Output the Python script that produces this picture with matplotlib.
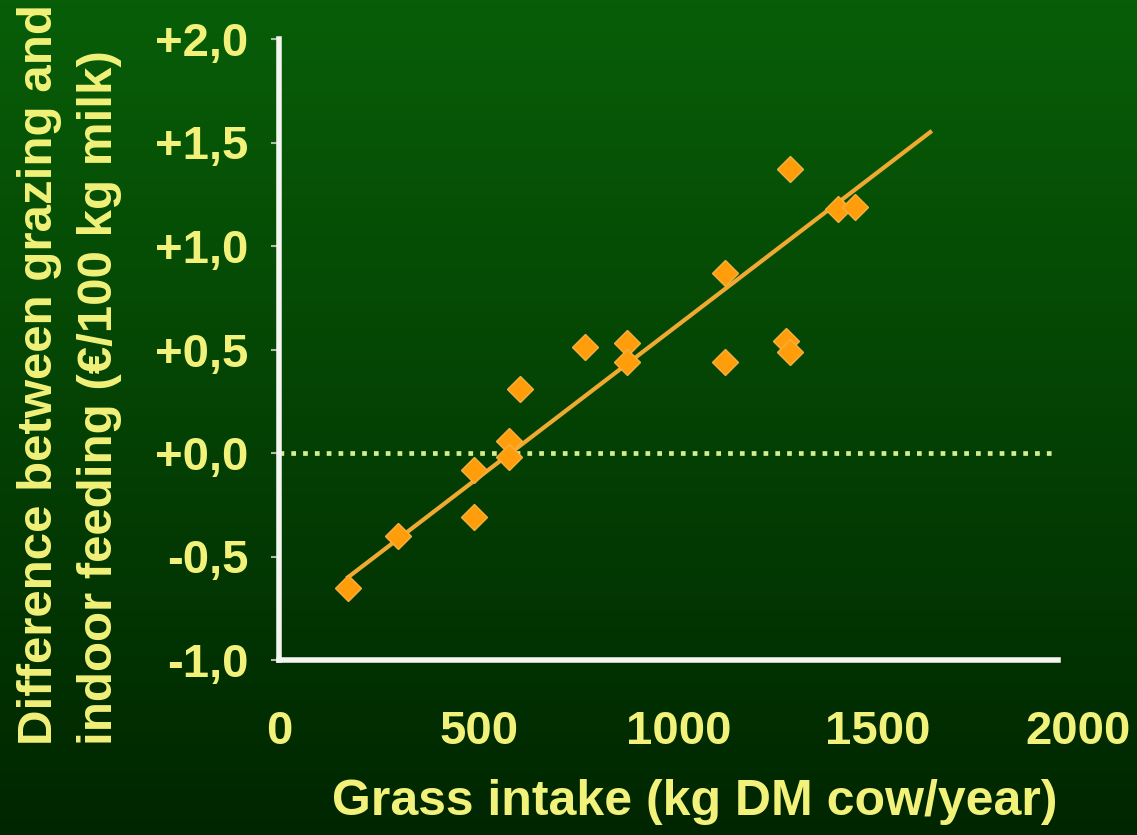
import matplotlib
matplotlib.use("Agg")
import matplotlib.pyplot as plt
import numpy as np

plt.rcParams['font.family'] = ['Liberation Sans', 'DejaVu Sans']
plt.rcParams['font.weight'] = 'bold'

# grass intake (kg DM/cow/year) vs cost difference (EUR/100 kg milk)
intake = [173, 298, 488, 488, 576, 576, 603, 766, 871, 871,
          1116, 1116, 1269, 1279, 1279, 1399, 1442]
diff = [-0.65, -0.40, -0.31, -0.08, 0.06, -0.02, 0.31, 0.51, 0.53, 0.44,
        0.87, 0.44, 0.54, 0.49, 1.37, 1.18, 1.19]

# regression line end points
trend_x = [173, 1630]
trend_y = [-0.60, 1.55]

x_ticks = [0, 500, 1000, 1500, 2000]
y_ticks = [-1.0, -0.5, 0.0, 0.5, 1.0, 1.5, 2.0]
y_tick_labels = ["-1,0", "-0,5", "+0,0", "+0,5", "+1,0", "+1,5", "+2,0"]

txt_col = "#f2f27a"

fig = plt.figure(figsize=[11.37, 8.35], dpi=100)

# green gradient background
bg = fig.add_axes([0, 0, 1, 1], zorder=-10)
top = np.array([0x08, 0x5e, 0x08]) / 255.
bot = np.array([0x00, 0x26, 0x00]) / 255.
t = np.linspace(0, 1, 256)[:, None]
grad = (top * (1 - t) + bot * t)[:, None, :]
bg.imshow(grad, aspect='auto', extent=[0, 1, 0, 1])
bg.axis('off')

ax = fig.add_axes([279/1137, 1 - 660/835, 799/1137, 621/835])
ax.patch.set_alpha(0)

ax.axhline(0, color="#d2ee90", lw=3.4, linestyle=(0, (1, 1.5)), xmax=1950/2000, zorder=1)
ax.plot(trend_x, trend_y, color="#f0aa32", lw=3, zorder=2)
ax.plot(intake, diff, linestyle='none', marker='D', ms=13.2,
        color="#ff9d0a", mec="#f5b040", mew=1, zorder=3)

ax.set_xlim(0, 2000)
ax.set_ylim(-1.0, 2.0)
ax.set_xticks(x_ticks)
ax.set_yticks(y_ticks)
ax.set_yticklabels(y_tick_labels)

for s in ['top', 'right']:
  ax.spines[s].set_visible(False)
for s in ['left', 'bottom']:
  ax.spines[s].set_color("#f4f4f0")
  ax.spines[s].set_linewidth(4)
ax.spines['bottom'].set_bounds(0, 1950)

ax.tick_params(axis='x', length=0, pad=36, labelsize=34, labelcolor=txt_col)
ax.tick_params(axis='y', length=6, width=1.5, color="#b0b8a8", pad=16,
               labelsize=34, labelcolor=txt_col)

fig.text(695/1137, 1 - 802/835, "Grass intake (kg DM cow/year)", ha='center', va='center',
         fontsize=36, color=txt_col, fontweight='bold')
fig.text(40/1137, 1 - 745/835, "Difference between grazing and", rotation=90,
         ha='center', va='bottom', fontsize=35.5, color=txt_col, fontweight='bold')
fig.text(100/1137, 1 - 745/835, "indoor feeding (€/100 kg milk)", rotation=90,
         ha='center', va='bottom', fontsize=35.5, color=txt_col, fontweight='bold')

fig.savefig("out.png", dpi=100)
